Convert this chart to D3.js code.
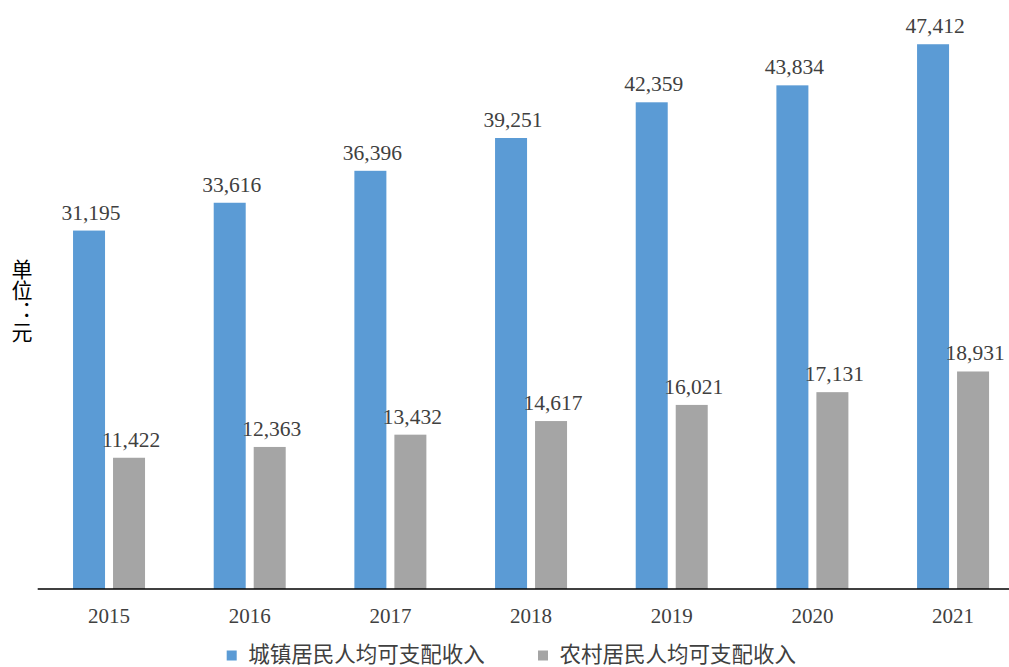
<!DOCTYPE html>
<html>
<head>
<meta charset="utf-8">
<script src="https://cdn.jsdelivr.net/npm/d3@7"></script>
<style>
  html, body { margin: 0; padding: 0; background: #fff; }
  svg { display: block; }
</style>
</head>
<body>
<svg id="chart" width="1009" height="667"></svg>
<script>
const years = ["2015", "2016", "2017", "2018", "2019", "2020", "2021"];
const seriesNames = ["城镇居民人均可支配收入", "农村居民人均可支配收入"];
const urban = [31195, 33616, 36396, 39251, 42359, 43834, 47412];
const rural = [11422, 12363, 13432, 14617, 16021, 17131, 18931];
const colors = ["#5B9BD5", "#A5A5A5"];
const yLabel = "单位：元";

const svg = d3.select("#chart");
const numFont = "'Liberation Serif', 'Times New Roman', serif";
const cjkFont = "'Noto Sans CJK SC', sans-serif";

const x = d3.scaleBand().domain(years).range([38.7, 1023.4]).padding(0);
const sub = d3.scaleBand().domain([0, 1]).range([-36, 36]).paddingInner(0.2).paddingOuter(0);
const y = d3.scaleLinear().domain([0, 50000]).range([589, 14.5]);

const data = years.map((yr, i) => ({ year: yr, vals: [urban[i], rural[i]] }));

const groups = svg.selectAll("g.cat").data(data).join("g")
  .attr("class", "cat")
  .attr("transform", d => `translate(${x(d.year) + x.bandwidth() / 2},0)`);

groups.selectAll("rect").data(d => d.vals.map((v, s) => ({ v, s }))).join("rect")
  .attr("x", d => sub(d.s))
  .attr("width", sub.bandwidth())
  .attr("y", d => y(d.v))
  .attr("height", d => y(0) - y(d.v))
  .attr("fill", d => colors[d.s]);

groups.selectAll("text.val").data(d => d.vals.map((v, s) => ({ v, s }))).join("text")
  .attr("class", "val")
  .attr("x", d => sub(d.s) + sub.bandwidth() / 2 + 2)
  .attr("y", d => y(d.v) - 11)
  .attr("text-anchor", "middle")
  .attr("font-family", numFont)
  .attr("font-size", 21.5)
  .attr("fill", "#404040")
  .text(d => d3.format(",")(d.v));

// x axis
const xAxis = d3.axisBottom(x).tickSize(0).tickPadding(0);
const gx = svg.append("g").attr("transform", `translate(0,${y(0)})`).call(xAxis);
gx.select(".domain").remove();
gx.selectAll("text")
  .attr("font-family", numFont)
  .attr("font-size", 21)
  .attr("fill", "#404040")
  .attr("dy", null)
  .attr("y", 34);

svg.append("line")
  .attr("x1", 37.7).attr("x2", 1009)
  .attr("y1", y(0)).attr("y2", y(0))
  .attr("stroke", "#000").attr("stroke-width", 1.5);

// y label (vertical)
svg.append("text")
  .attr("x", 22).attr("y", 259)
  .attr("font-family", cjkFont)
  .attr("font-size", 21)
  .attr("fill", "#000")
  .style("writing-mode", "vertical-rl")
  .style("text-orientation", "upright")
  .text(yLabel);

// legend
const legendX = [226.7, 538];
const leg = svg.selectAll("g.leg").data(seriesNames).join("g")
  .attr("class", "leg")
  .attr("transform", (d, i) => `translate(${legendX[i]},650.5)`);
leg.append("rect").attr("width", 10).attr("height", 10).attr("fill", (d, i) => colors[i]);
leg.append("text")
  .attr("x", 21.5).attr("y", 11.5)
  .attr("font-family", cjkFont)
  .attr("font-size", 21.5)
  .attr("fill", "#404040")
  .text(d => d);
</script>
</body>
</html>
